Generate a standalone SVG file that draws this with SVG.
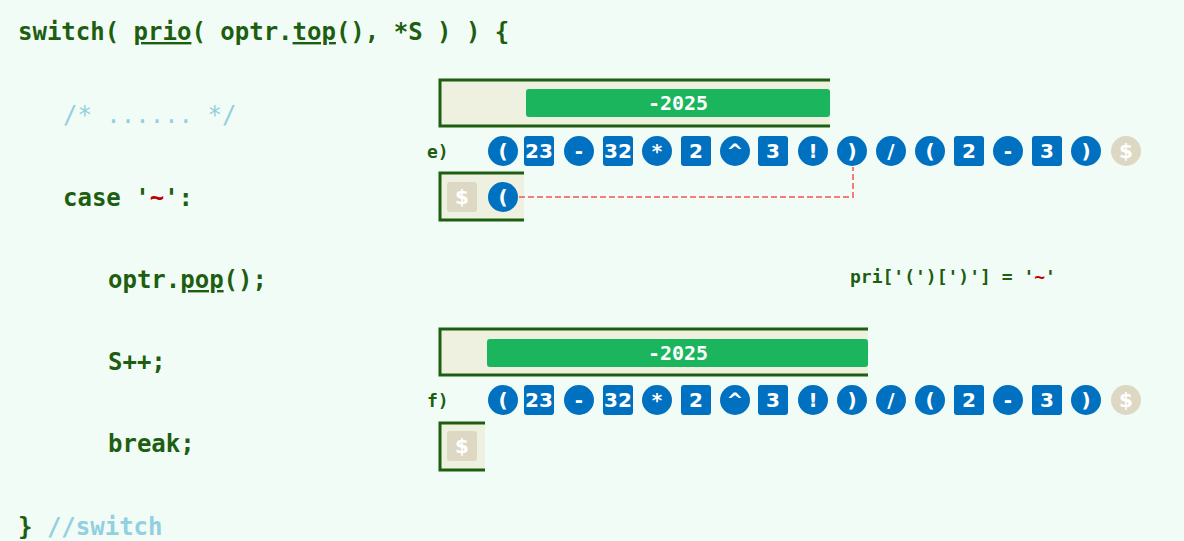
<svg xmlns="http://www.w3.org/2000/svg" width="1184" height="541" viewBox="0 0 1184 541">
<style>
.code{font-family:"DejaVu Sans Mono",monospace;font-weight:bold;font-size:24px;fill:#1d5e10}
.cm{font-family:"DejaVu Sans Mono",monospace;font-size:24px;fill:#92cfe0}
.red{fill:#c00000}
.lbl{font-family:"DejaVu Sans Mono",monospace;font-weight:bold;font-size:18px;fill:#1d5e10}
.box{fill:#eef0e0;stroke:#1d5e10;stroke-width:3}
.bar{fill:#1ab55c}
.op{fill:#0070c0}
.num{fill:#0070c0}
.dol{fill:#ddd8c4}
.t{font-family:"DejaVu Sans",sans-serif;font-weight:bold;font-size:20px;fill:#fff;text-anchor:middle;dominant-baseline:central}
.bt{font-family:"DejaVu Sans Mono",monospace;font-weight:bold;font-size:20px;fill:#fff;text-anchor:middle;dominant-baseline:central}
</style>
<rect width="1184" height="541" fill="#f2fcf6"/>
<g id="code">
<text class="code" x="18" y="40">switch( <tspan text-decoration="underline">prio</tspan>( optr.<tspan text-decoration="underline">top</tspan>(), *S ) ) {</text>
<text class="cm" x="63" y="123">/* ...... */</text>
<text class="code" x="63" y="206">case '<tspan class="red">~</tspan>':</text>
<text class="code" x="108" y="288">optr.<tspan text-decoration="underline">pop</tspan>();</text>
<text class="code" x="108" y="370">S++;</text>
<text class="code" x="108" y="452">break;</text>
<text class="code" x="18" y="535">} <tspan class="cm">//switch</tspan></text>
<text class="lbl" x="850" y="283">pri['(')[')'] = '<tspan class="red">~</tspan>'</text>
</g>
<g id="e">
<path class="box" d="M830,80 H440 V126 H830"/>
<rect class="bar" x="526" y="89" width="304" height="28" rx="3"/>
<text class="bt" x="678" y="103">-2025</text>
<text class="lbl" x="427" y="158">e)</text>
<g id="e-tokens">
<circle class="op" cx="503" cy="151" r="15"/><text class="t" x="503" y="151">(</text>
<rect class="num" x="524" y="136" width="30" height="30" rx="3"/><text class="t" x="539" y="151">23</text>
<circle class="op" cx="579" cy="151" r="15"/><text class="t" x="579" y="151">-</text>
<rect class="num" x="603" y="136" width="30" height="30" rx="3"/><text class="t" x="618" y="151">32</text>
<circle class="op" cx="657" cy="151" r="15"/><text class="t" x="657" y="151">*</text>
<rect class="num" x="681" y="136" width="30" height="30" rx="3"/><text class="t" x="696" y="151">2</text>
<circle class="op" cx="735" cy="151" r="15"/><text class="t" x="735" y="151">^</text>
<rect class="num" x="758" y="136" width="30" height="30" rx="3"/><text class="t" x="773" y="151">3</text>
<circle class="op" cx="813" cy="151" r="15"/><text class="t" x="813" y="151">!</text>
<circle class="op" cx="852" cy="151" r="15"/><text class="t" x="852" y="151">)</text>
<circle class="op" cx="891" cy="151" r="15"/><text class="t" x="891" y="151">/</text>
<circle class="op" cx="930" cy="151" r="15"/><text class="t" x="930" y="151">(</text>
<rect class="num" x="954" y="136" width="30" height="30" rx="3"/><text class="t" x="969" y="151">2</text>
<circle class="op" cx="1008" cy="151" r="15"/><text class="t" x="1008" y="151">-</text>
<rect class="num" x="1032" y="136" width="30" height="30" rx="3"/><text class="t" x="1047" y="151">3</text>
<circle class="op" cx="1086" cy="151" r="15"/><text class="t" x="1086" y="151">)</text>
<circle class="dol" cx="1126" cy="151" r="15"/><text class="t" x="1126" y="151">$</text>
</g>
<path class="box" d="M524,173 H440 V220 H524"/>
<rect class="dol" x="447" y="182" width="30" height="30" rx="3"/><text class="t" x="462" y="197">$</text>
<circle class="op" cx="503" cy="197" r="15"/><text class="t" x="503" y="197">(</text>
</g>
<g id="f">
<path class="box" d="M868,329 H440 V375 H868"/>
<rect class="bar" x="487" y="339" width="381" height="28" rx="3"/>
<text class="bt" x="678" y="353">-2025</text>
<text class="lbl" x="427" y="407">f)</text>
<g id="f-tokens">
<circle class="op" cx="503" cy="400" r="15"/><text class="t" x="503" y="400">(</text>
<rect class="num" x="524" y="385" width="30" height="30" rx="3"/><text class="t" x="539" y="400">23</text>
<circle class="op" cx="579" cy="400" r="15"/><text class="t" x="579" y="400">-</text>
<rect class="num" x="603" y="385" width="30" height="30" rx="3"/><text class="t" x="618" y="400">32</text>
<circle class="op" cx="657" cy="400" r="15"/><text class="t" x="657" y="400">*</text>
<rect class="num" x="681" y="385" width="30" height="30" rx="3"/><text class="t" x="696" y="400">2</text>
<circle class="op" cx="735" cy="400" r="15"/><text class="t" x="735" y="400">^</text>
<rect class="num" x="758" y="385" width="30" height="30" rx="3"/><text class="t" x="773" y="400">3</text>
<circle class="op" cx="813" cy="400" r="15"/><text class="t" x="813" y="400">!</text>
<circle class="op" cx="852" cy="400" r="15"/><text class="t" x="852" y="400">)</text>
<circle class="op" cx="891" cy="400" r="15"/><text class="t" x="891" y="400">/</text>
<circle class="op" cx="930" cy="400" r="15"/><text class="t" x="930" y="400">(</text>
<rect class="num" x="954" y="385" width="30" height="30" rx="3"/><text class="t" x="969" y="400">2</text>
<circle class="op" cx="1008" cy="400" r="15"/><text class="t" x="1008" y="400">-</text>
<rect class="num" x="1032" y="385" width="30" height="30" rx="3"/><text class="t" x="1047" y="400">3</text>
<circle class="op" cx="1086" cy="400" r="15"/><text class="t" x="1086" y="400">)</text>
<circle class="dol" cx="1126" cy="400" r="15"/><text class="t" x="1126" y="400">$</text>
</g>
<path class="box" d="M485,423 H440 V470 H485"/>
<rect class="dol" x="447" y="431" width="30" height="30" rx="3"/><text class="t" x="462" y="446">$</text>
</g>
<g id="connectors">
<path d="M519,197 H853 V167" fill="none" stroke="#f47c7c" stroke-width="2" stroke-dasharray="6,3"/>
</g>
</svg>
